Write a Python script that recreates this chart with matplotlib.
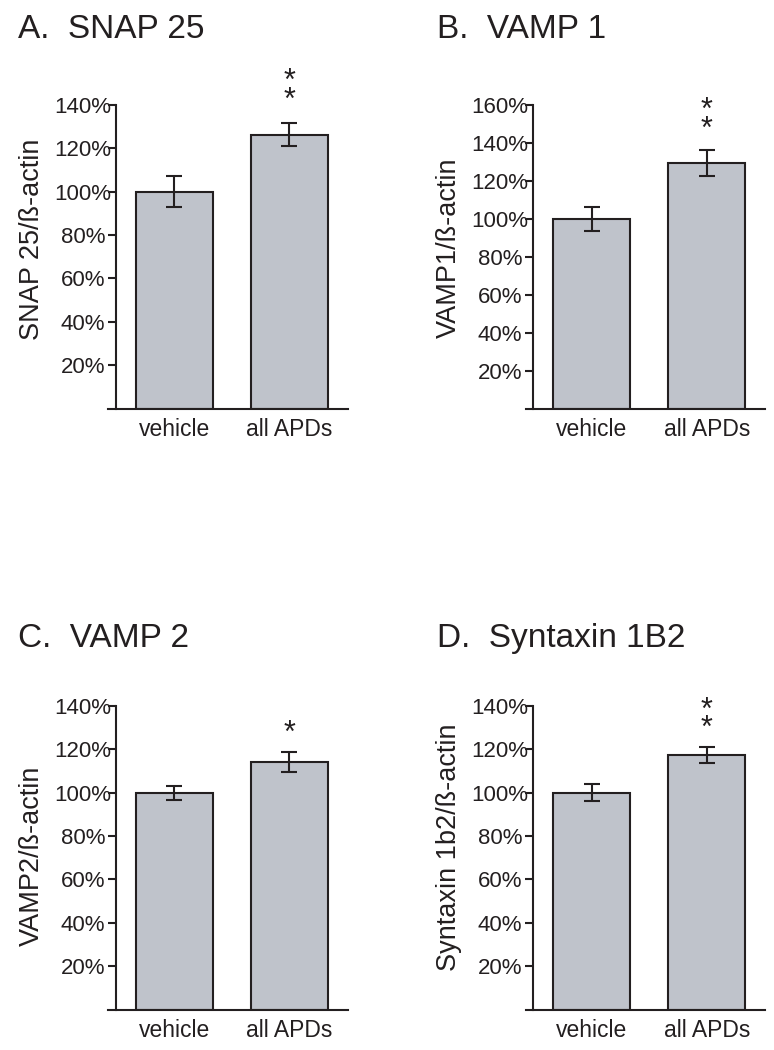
import matplotlib
matplotlib.use("Agg")
import matplotlib.pyplot as plt

plt.rcParams['font.family'] = ['Liberation Sans', 'DejaVu Sans']

# ---- data ----
categories = ["vehicle", "all APDs"]
titles = ["A.  SNAP 25", "B.  VAMP 1", "C.  VAMP 2", "D.  Syntaxin 1B2"]
ylabels = ["SNAP 25/ß-actin", "VAMP1/ß-actin", "VAMP2/ß-actin", "Syntaxin 1b2/ß-actin"]
means_A = [100, 126.3]
errs_A = [7.2, 5.3]
means_B = [100, 129.5]
errs_B = [6.2, 6.7]
means_C = [100, 114.2]
errs_C = [3.2, 4.7]
means_D = [100, 117.6]
errs_D = [3.8, 3.7]
ymax = [140, 160, 140, 140]
signif = ["**", "**", "*", "**"]

DARK = "#231F20"
BAR = "#BFC3CB"
W, H = 774, 1050
fig = plt.figure(figsize=(W / 100, H / 100), dpi=100)

# panel geometry in pixels (left, top, right, bottom)
boxes = [(108, 105, 348, 408.5), (526, 105, 765, 408.5),
         (108, 706, 348, 1009.5), (526, 706, 765, 1009.5)]
bar_c0 = [174.2, 591.7, 174.2, 591.7]
spine_x = [116, 533.3, 116, 533.3]
spacing = 115.0
title_pos = [(18, 38), (437, 38), (18, 647), (437, 647)]
ylab_pos = [(32, 239), (449, 248), (32, 856), (449, 847)]
star_off_pt = [10.5, 8.9, 7.4, 6.7]

all_means = [means_A, means_B, means_C, means_D]
all_errs = [errs_A, errs_B, errs_C, errs_D]

for i in range(4):
    l, t, r, b = boxes[i]
    ax = fig.add_axes([l / W, 1 - b / H, (r - l) / W, (b - t) / H])
    x0 = bar_c0[i]
    ax.set_xlim((l - x0) / spacing, (r - x0) / spacing)
    ax.set_ylim(0, ymax[i])
    xs = list(range(len(categories)))
    ax.bar(xs, all_means[i], width=0.67, color=BAR, edgecolor=DARK,
           linewidth=1.5, zorder=2)
    ax.errorbar(xs, all_means[i], yerr=all_errs[i], fmt='none', ecolor=DARK,
                elinewidth=1.5, capsize=5.5, capthick=1.5, zorder=3)
    for sp in ["top", "right"]:
        ax.spines[sp].set_visible(False)
    ax.spines["left"].set_position(("data", (spine_x[i] - x0) / spacing))
    for sp in ["left", "bottom"]:
        ax.spines[sp].set_linewidth(1.5)
        ax.spines[sp].set_color(DARK)
    yt = list(range(20, ymax[i] + 1, 20))
    ax.set_yticks(yt)
    ax.set_yticklabels([f"{v}%" for v in yt], ha='center')
    ax.tick_params(axis='y', length=5.8, width=1.5, color=DARK, pad=18,
                   labelsize=16, labelcolor=DARK)
    ax.set_xticks(xs)
    ax.set_xticklabels(categories)
    ax.tick_params(axis='x', length=0, pad=7, labelsize=16.5, labelcolor=DARK)
    ax.patch.set_visible(False)

    # significance stars (stacked)
    top = all_means[i][1] + all_errs[i][1]
    ax.annotate("\n".join(signif[i]), xy=(1, top), xytext=(0, star_off_pt[i]),
                textcoords='offset points', ha='center', va='baseline',
                fontsize=22, color=DARK, linespacing=0.5,
                annotation_clip=False)

    tx, ty = title_pos[i]
    fig.text(tx / W, 1 - ty / H, titles[i], fontsize=24, color=DARK,
             ha='left', va='baseline')
    lx, ly = ylab_pos[i]
    fig.text(lx / W, 1 - ly / H, ylabels[i], fontsize=19.5, color=DARK,
             rotation=90, ha='center', va='center')

fig.savefig("out.png", dpi=100, facecolor='white')
